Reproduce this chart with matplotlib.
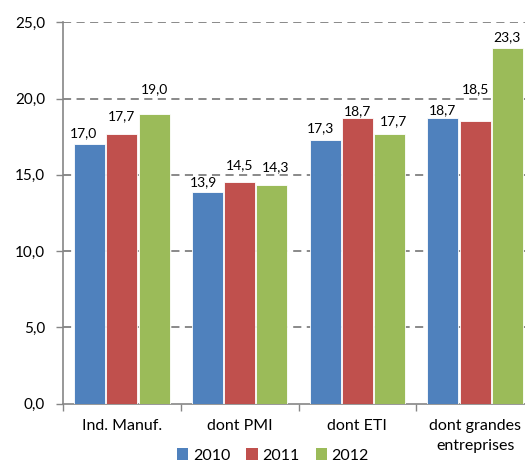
import matplotlib
matplotlib.use("Agg")
import matplotlib.pyplot as plt
import numpy as np
from matplotlib.patches import Patch

categories = ["Ind. Manuf.", "dont PMI", "dont ETI", "dont grandes\nentreprises"]
years = ["2010", "2011", "2012"]
v2010 = [17.0, 13.9, 17.3, 18.7]
v2011 = [17.7, 14.5, 18.7, 18.5]
v2012 = [19.0, 14.3, 17.7, 23.3]
yticks = [0, 5, 10, 15, 20, 25]

colors = ["#4F81BD", "#C0504D", "#9BBB59"]
# label offsets (pixels) relative to bar top centre, mimicking manual Excel label placement
label_dx = [[-6, -4, -5, 0], [0, 0, 0, 0], [0, 4, 4, 0]]
label_dy = [[11, 9, 12, 8], [17, 17, 7, 32], [25, 18, 12, 11]]

plt.rcParams['font.family'] = ['Lato', 'DejaVu Sans']

fig = plt.figure(figsize=(5.25, 4.63), dpi=100)
W, H = 525, 463
left, right = 63, 534
y0, ytop = 403.5, 22.3
ax = fig.add_axes([left / W, 1 - y0 / H, (right - left) / W, (y0 - ytop) / H])

x = np.arange(len(categories))
step = 0.274
width = 0.262
series = [v2010, v2011, v2012]
for i, vals in enumerate(series):
    bars = ax.bar(x + (i - 1) * step, vals, width=width, color=colors[i],
                  edgecolor="white", linewidth=0.6, zorder=3)
    for j, (b, v) in enumerate(zip(bars, vals)):
        ax.annotate(f"{v:.1f}".replace(".", ","),
                    (b.get_x() + b.get_width() / 2, v),
                    xytext=(label_dx[i][j], label_dy[i][j]),
                    textcoords="offset pixels", ha="center", va="center",
                    fontsize=10, color="black", zorder=4)

ax.set_xlim(-0.5, len(categories) - 0.5)
ax.set_ylim(0, 25)
ax.set_yticks(yticks)
ax.set_yticklabels([f"{t:.1f}".replace(".", ",") for t in yticks], fontsize=11)
for t in yticks[1:]:
    ax.axhline(t, color="#808080", lw=1.3, ls=(0, (4.5, 3)), zorder=1)

ax.set_xticks(x)
ax.set_xticklabels(categories, fontsize=11.5)
ax.set_xticks(np.arange(-0.5, len(categories), 1.0), minor=True)
ax.tick_params(axis="x", which="major", length=0, pad=11)
ax.tick_params(axis="x", which="minor", length=5, color="#868686", width=1)
ax.tick_params(axis="y", length=5, color="#868686", width=1, pad=8)
for lab in ax.get_xticklabels():
    lab.set_linespacing(1.55)

for s in ["top", "right"]:
    ax.spines[s].set_visible(False)
for s in ["left", "bottom"]:
    ax.spines[s].set_color("#868686")
    ax.spines[s].set_linewidth(1.2)

handles = [Patch(facecolor=c, edgecolor="none") for c in colors]
fig.legend(handles, years, loc="center", bbox_to_anchor=(273 / W, 1 - 455.5 / H),
           ncol=3, frameon=False, fontsize=11.5, handlelength=0.7, handleheight=0.7,
           handletextpad=0.3, columnspacing=1.0, borderaxespad=0)

fig.savefig("out.png", dpi=100)
